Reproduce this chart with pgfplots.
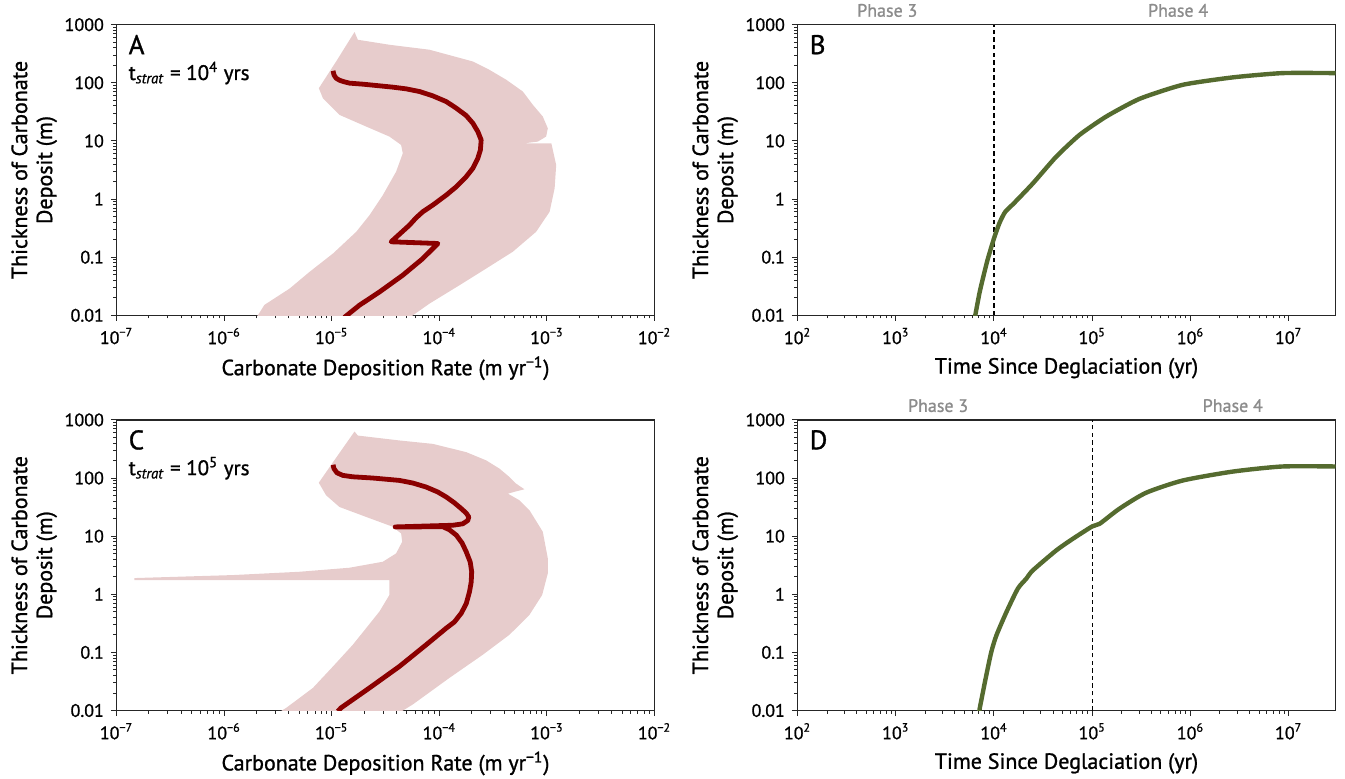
\documentclass[border=0pt]{standalone}
\usepackage{fontspec}
\setmainfont{PT Sans}[FakeBold=1.1]
\usepackage{pgfplots}
\pgfplotsset{compat=1.18}
\definecolor{dred}{RGB}{139,0,0}
\definecolor{band}{RGB}{231,204,204}
\definecolor{olivec}{RGB}{85,107,47}
\definecolor{phasegray}{RGB}{140,140,140}

\pgfplotsset{
 my common/.style={
  scale only axis, width=269pt, height=145.3pt,
  ymin=0.01, ymax=1000,
  axis line style={black!85, line width=0.65pt},
  tick style={black!85, line width=0.5pt},
  major tick length=2.8pt, minor tick length=1.6pt,
  tick align=outside, xtick pos=bottom, ytick pos=left,
  clip mode=individual,
  tick label style={font=\fontsize{9}{10}\selectfont},
  xticklabel={\pgfmathtruncatemacro\myE{round(\tick)}10\textsuperscript{\ifnum\myE<0 \textminus\the\numexpr-\myE\relax\else\myE\fi}},
  yticklabel={\pgfmathtruncatemacro\myE{round(\tick)+2}\ifcase\myE\relax 0.01\or 0.1\or 1\or 10\or 100\or 1000\fi},
  ylabel={Thickness of Carbonate\\Deposit (m)},
  ylabel style={align=center, font=\fontsize{11}{12.5}\selectfont, at={(axis description cs:-0.153,0.5)}, anchor=center},
  xlabel style={font=\fontsize{11}{13}\selectfont, at={(axis description cs:0.5,-0.182)}, anchor=center},
 },
}

\begin{document}
\begin{tikzpicture}[x=1pt,y=1pt]
\useasboundingbox (0,0) rectangle (672.5,389);

% ---------------- Panel A
\begin{axis}[xmode=log, ymode=log, log basis x=10, log basis y=10, my common,
  xmin=1e-7, xmax=1e-2, xlabel={Carbonate Deposition Rate (m yr\textsuperscript{\textminus1})},
  at={(58.25pt,231.35pt)}, anchor=south west]
\addplot[fill=band, draw=none] coordinates {
(1.63e-5,748) (1.75e-5,551) (3.44e-5,452) (8.11e-5,371) (2.05e-4,233) (2.93e-4,167) (4.19e-4,113) (5.97e-4,71) (7.41e-4,41.8) (9.16e-4,26.3) (1.02e-3,16.5) (9.84e-4,11.9) (8.24e-4,9.75) (6.19e-4,9.12) (1.10e-3,9.12) (1.22e-3,3.85) (1.18e-3,1.53) (1.06e-3,0.605) (7.94e-4,0.273) (4.82e-4,0.124) (2.73e-4,0.0638) (1.54e-4,0.0329) (8.11e-5,0.0159) (5.68e-5,0.01) (5.0e-5,0.008) (1.8e-6,0.008) (2.06e-6,0.01) (2.37e-6,0.0151) (4.06e-6,0.0288) (6.22e-6,0.0558) (1.03e-5,0.116) (1.69e-5,0.273) (2.25e-5,0.53) (2.99e-5,1.17) (3.97e-5,2.96) (4.58e-5,6.12) (4.42e-5,8.53) (3.44e-5,11.9) (2.09e-5,17.7) (1.18e-5,28.1) (8.28e-6,54.5) (7.6e-6,80.9) (1.10e-5,233)
} -- cycle;
\addplot[dred, line width=2.4pt, line join=round] coordinates {
(1.03e-5,161) (1.05e-5,137) (1.10e-5,120) (1.18e-5,111) (1.31e-5,104) (1.47e-5,98.7) (1.95e-5,94.8) (2.59e-5,90) (3.70e-5,84.2) (4.92e-5,78.8) (6.55e-5,70.9) (8.7e-5,59.7) (1.16e-4,47.6) (1.44e-4,36.6) (1.78e-4,27.3) (2.05e-4,20.2) (2.28e-4,14.5) (2.45e-4,10.4) (2.41e-4,7.0) (2.28e-4,5.02) (2.05e-4,3.38) (1.78e-4,2.43) (1.44e-4,1.63) (1.16e-4,1.17) (8.71e-5,0.789) (7.03e-5,0.605) (6.09e-5,0.476) (5.28e-5,0.356) (4.27e-5,0.249) (3.57e-5,0.184) (9.7e-5,0.172) (7.03e-5,0.0948) (4.58e-5,0.049) (2.78e-5,0.0252) (1.81e-5,0.0149) (1.31e-5,0.0092)
};
\node[anchor=north west, inner sep=0, font=\fontsize{13.5}{15}\selectfont] at (rel axis cs:0.022,0.966) {A};
\node[anchor=west, inner sep=0, font=\fontsize{10.5}{12}\selectfont] at (rel axis cs:0.022,0.834) {t\textsubscript{\textit{strat}} = 10\textsuperscript{4} yrs};
\end{axis}

% ---------------- Panel B
\begin{axis}[xmode=log, ymode=log, log basis x=10, log basis y=10, my common,
  xmin=100, xmax=3e7, xlabel={Time Since Deglaciation (yr)},
  at={(398.75pt,231.35pt)}, anchor=south west]
\addplot[black, line width=0.6pt, dash pattern=on 2.2pt off 1.6pt] coordinates {(1e4,0.01) (1e4,1000)};
\addplot[olivec, line width=2.2pt, smooth, tension=0.35] coordinates {
(6.3e3,0.008) (7.16e3,0.0252) (8.5e3,0.0832) (1.0e4,0.21) (1.14e4,0.39) (1.3e4,0.6) (1.6e4,0.85) (2.49e4,1.86) (4.31e4,5.37) (7.43e4,12.7) (1.39e5,26.3) (3.03e5,53) (8.34e5,92.4) (2.69e6,124) (8.65e6,147) (3e7,147)
};
\node[anchor=north west, inner sep=0, font=\fontsize{13.5}{15}\selectfont] at (rel axis cs:0.022,0.966) {B};
\node[anchor=south, inner sep=0, yshift=3.7pt, text=phasegray, font=\fontsize{9}{10}\selectfont] at (axis cs:820,1000) {Phase 3};
\node[anchor=south, inner sep=0, yshift=3.7pt, text=phasegray, font=\fontsize{9}{10}\selectfont] at (axis cs:7.5e5,1000) {Phase 4};
\end{axis}

% ---------------- Panel C
\begin{axis}[xmode=log, ymode=log, log basis x=10, log basis y=10, my common,
  xmin=1e-7, xmax=1e-2, xlabel={Carbonate Deposition Rate (m yr\textsuperscript{\textminus1})},
  at={(58.25pt,33.75pt)}, anchor=south west]
\addplot[fill=band, draw=none] coordinates {
(1.63e-5,631) (1.75e-5,538) (4.27e-5,443) (8.7e-5,387) (1.78e-4,279) (2.73e-4,201) (3.63e-4,145) (4.49e-4,104) (5.18e-4,80) (6.19e-4,64) (5.18e-4,59) (4.34e-4,53.8) (5.56e-4,41.4) (6.89e-4,27.9) (9.16e-4,11.9) (1.02e-3,4.14) (1.02e-3,2.29) (9.04e-4,0.973) (6.89e-4,0.443) (4.49e-4,0.201) (2.54e-4,0.0912) (1.24e-4,0.0363) (5.67e-5,0.0127) (4.6e-5,0.01) (4.0e-5,0.008) (3.0e-6,0.008) (3.45e-6,0.01) (3.78e-6,0.0111) (6.68e-6,0.0244) (1.03e-5,0.0575) (1.57e-5,0.135) (2.09e-5,0.261) (2.78e-5,0.505) (3.44e-5,0.973) (3.44e-5,1.76) (1.47e-7,1.76) (1.47e-7,1.90) (1.21e-6,2.14) (5.02e-6,2.44) (1.46e-5,2.86) (2.99e-5,3.63) (3.97e-5,5.05) (4.52e-5,8.0) (4.42e-5,11.1) (3.70e-5,14.5) (2.09e-5,21.4) (1.18e-5,31.8) (8.87e-6,50.5) (7.59e-6,83) (1.03e-5,188)
} -- cycle;
\addplot[dred, line width=2.4pt, line join=round] coordinates {
(1.03e-5,169) (1.05e-5,145) (1.12e-5,123) (1.27e-5,111) (1.57e-5,105) (2.41e-5,100) (4.27e-5,91) (5.68e-5,82) (7.55e-5,70) (9.68e-5,57.5) (1.16e-4,47.2) (1.38e-4,37.5) (1.60e-4,29.8) (1.78e-4,24.9) (1.88e-4,21.4) (1.84e-4,18.6) (1.65e-4,16.3) (1.34e-4,15.4) (8.11e-5,15.0) (3.89e-5,14.4) (1.08e-4,14.5) (1.24e-4,12.9) (1.44e-4,10.4) (1.63e-4,7.6) (1.78e-4,5.38) (1.94e-4,3.58) (2.0e-4,2.44) (1.98e-4,1.62) (1.91e-4,1.11) (1.78e-4,0.689) (1.60e-4,0.472) (1.38e-4,0.333) (1.16e-4,0.261) (7.55e-5,0.135) (4.27e-5,0.0575) (2.24e-5,0.0244) (1.22e-5,0.0111) (1.14e-5,0.0097)
};
\node[anchor=north west, inner sep=0, font=\fontsize{13.5}{15}\selectfont] at (rel axis cs:0.022,0.966) {C};
\node[anchor=west, inner sep=0, font=\fontsize{10.5}{12}\selectfont] at (rel axis cs:0.022,0.834) {t\textsubscript{\textit{strat}} = 10\textsuperscript{5} yrs};
\end{axis}

% ---------------- Panel D
\begin{axis}[xmode=log, ymode=log, log basis x=10, log basis y=10, my common,
  xmin=100, xmax=3e7, xlabel={Time Since Deglaciation (yr)},
  at={(398.75pt,33.75pt)}, anchor=south west]
\addplot[black, line width=0.6pt, dash pattern=on 2.2pt off 1.6pt] coordinates {(1e5,0.01) (1e5,1000)};
\addplot[olivec, line width=2.2pt, smooth, tension=0.4] coordinates {
(7.0e3,0.008) (7.16e3,0.0108) (7.73e3,0.0209) (8.36e3,0.0405) (9.4e3,0.102) (1.06e4,0.197) (1.34e4,0.495) (1.75e4,1.25) (2.13e4,1.85) (2.49e4,2.58) (4.31e4,5.69) (6.35e4,9.0) (1e5,14.7) (1.19e5,16.3) (1.89e5,29.6) (3.53e5,55.7) (8.34e5,90.6) (2.69e6,129) (8.65e6,158) (3e7,158)
};
\node[anchor=north west, inner sep=0, font=\fontsize{13.5}{15}\selectfont] at (rel axis cs:0.022,0.966) {D};
\node[anchor=south, inner sep=0, yshift=3.7pt, text=phasegray, font=\fontsize{9}{10}\selectfont] at (axis cs:2.7e3,1000) {Phase 3};
\node[anchor=south, inner sep=0, yshift=3.7pt, text=phasegray, font=\fontsize{9}{10}\selectfont] at (axis cs:2.7e6,1000) {Phase 4};
\end{axis}
\end{tikzpicture}
\end{document}
